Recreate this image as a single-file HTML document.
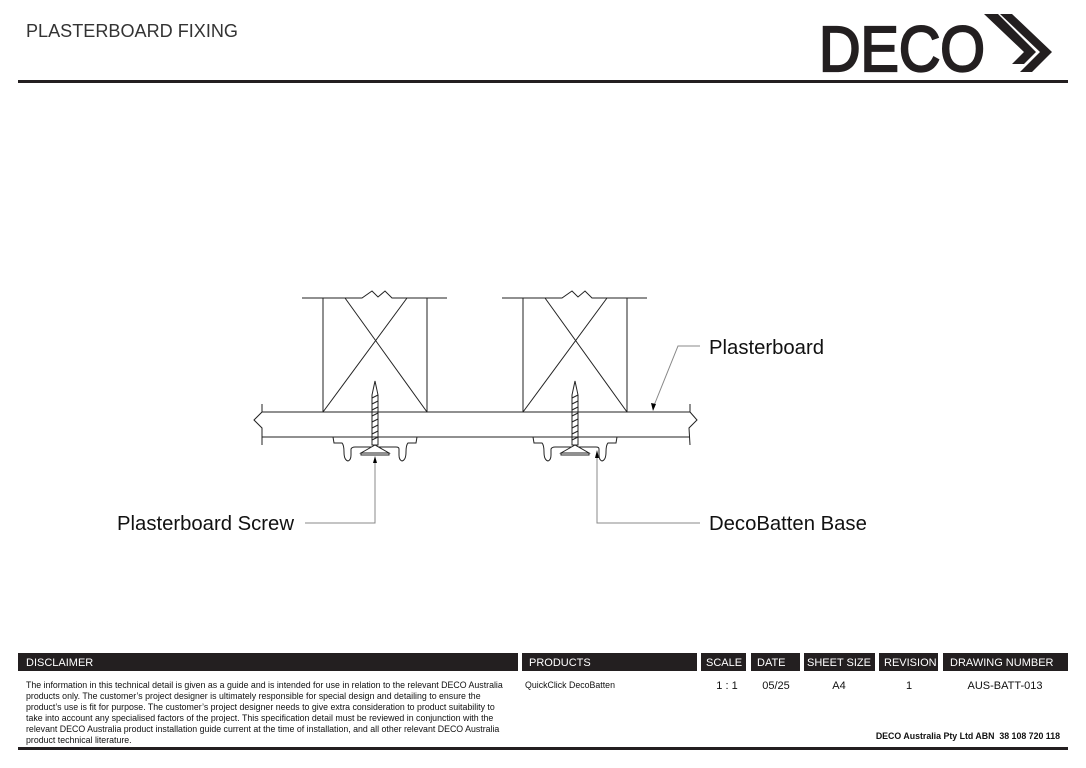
<!DOCTYPE html>
<html><head><style>
body{margin:0;background:#fff;width:1086px;height:768px;overflow:hidden;font-family:"Liberation Sans",Arial,sans-serif;}
svg{position:absolute;left:0;top:0}
</style></head><body>
<svg width="1086" height="768" viewBox="0 0 1086 768" xmlns="http://www.w3.org/2000/svg" font-family="Liberation Sans, Arial, sans-serif">
<text x="26" y="37" font-size="18" fill="#333" textLength="212" lengthAdjust="spacingAndGlyphs">PLASTERBOARD FIXING</text>
<!-- logo -->
<text x="819" y="71" font-size="64" fill="#231f20" stroke="#231f20" stroke-width="2.2" textLength="166" lengthAdjust="spacingAndGlyphs">DECO</text>
<polygon points="984,14 998,14 1036,52 1024,64 1012,64 1024,52" fill="#231f20"/>
<polygon points="1000,14 1012,14 1052,52 1032,72 1020,72 1040,52" fill="#231f20"/>
<rect x="18" y="80" width="1050" height="3" fill="#231f20"/>
<g fill="none" stroke="#222" stroke-width="1">
<g id="s1">
<polyline points="302,298 362,298 372,291 378,297 385,291 392,298 447,298"/>
<polyline points="323,298 323,412"/><polyline points="427,298 427,412"/>
<line x1="345" y1="298" x2="427" y2="412"/><line x1="407" y1="298" x2="323" y2="412"/>
<path d="M333,437 L334,443 L342,443 Q344,445 344,452 Q344,460 348,461 Q351,460 351,455 L351,449 Q352,447 355,447 L396,447 Q399,447 399,449 L399,455 Q399,460 402,461 Q406,460 406,452 Q406,445 408,443 L416,443 L417,437"/>
<path d="M375,381 L372,395 L372,445 L378,445 L378,395 Z" fill="#fff"/>
<path d="M372,398 L378,395 M372,404 L378,401 M372,410 L378,407 M372,416 L378,413 M372,422 L378,419 M372,428 L378,425 M372,434 L378,431 M372,440 L378,437"/>
<polygon points="375,445 361,453 389,453" fill="#fff"/>
<rect x="361" y="453" width="28" height="2" fill="#fff"/>
</g>
<use href="#s1" transform="translate(200,0)"/>
<path d="M262,412 L690,412 M262,437 L690,437"/>
<path d="M262,404 L262,412 L254,420 L262,428 L262,445"/>
<path d="M690,404 L690,412 L697,420 L689,428 L690,445"/>
</g>
<g fill="none" stroke="#888" stroke-width="1">
<polyline points="653,408 678,346 700,346"/>
<polyline points="375,462 375,523 305,523"/>
<polyline points="597,457 597,523 700,523"/>
</g>
<polygon points="375,456 373,463 377,463" fill="#000"/>
<polygon points="597,450 595,458 599,458" fill="#000"/>
<polygon points="653,411 651,403 656,404" fill="#000"/>
<g font-size="20.3" fill="#111">
<text x="709" y="354">Plasterboard</text>
<text x="117" y="530">Plasterboard Screw</text>
<text x="709" y="530">DecoBatten Base</text>
</g>
<g fill="#231f20">
<rect x="18" y="653" width="500" height="18"/>
<rect x="522" y="653" width="175" height="18"/>
<rect x="701" y="653" width="45" height="18"/>
<rect x="751" y="653" width="49" height="18"/>
<rect x="804" y="653" width="71" height="18"/>
<rect x="879" y="653" width="59" height="18"/>
<rect x="943" y="653" width="125" height="18"/>
<rect x="18" y="747" width="1050" height="3"/>
</g>
<g font-size="11" fill="#fff">
<text x="26" y="666">DISCLAIMER</text>
<text x="529" y="666">PRODUCTS</text>
<text x="706" y="666">SCALE</text>
<text x="757" y="666">DATE</text>
<text x="807" y="666">SHEET SIZE</text>
<text x="884" y="666">REVISION</text>
<text x="950" y="666">DRAWING NUMBER</text>
</g>
<g font-size="8.8" fill="#111">
<text x="26" y="688">The information in this technical detail is given as a guide and is intended for use in relation to the relevant DECO Australia</text>
<text x="26" y="699">products only. The customer’s project designer is ultimately responsible for special design and detailing to ensure the</text>
<text x="26" y="710">product’s use is fit for purpose. The customer’s project designer needs to give extra consideration to product suitability to</text>
<text x="26" y="721">take into account any specialised factors of the project. This specification detail must be reviewed in conjunction with the</text>
<text x="26" y="732">relevant DECO Australia product installation guide current at the time of installation, and all other relevant DECO Australia</text>
<text x="26" y="743">product technical literature.</text>
<text x="525" y="688">QuickClick DecoBatten</text>
</g>
<g font-size="11" fill="#111" text-anchor="middle">
<text x="727" y="689">1 : 1</text>
<text x="776" y="689">05/25</text>
<text x="839" y="689">A4</text>
<text x="909" y="689">1</text>
<text x="1005" y="689">AUS-BATT-013</text>
</g>
<text x="1060" y="739" font-size="8.8" font-weight="bold" text-anchor="end" fill="#111" xml:space="preserve">DECO Australia Pty Ltd ABN  38 108 720 118</text>
</svg>
</body></html>
